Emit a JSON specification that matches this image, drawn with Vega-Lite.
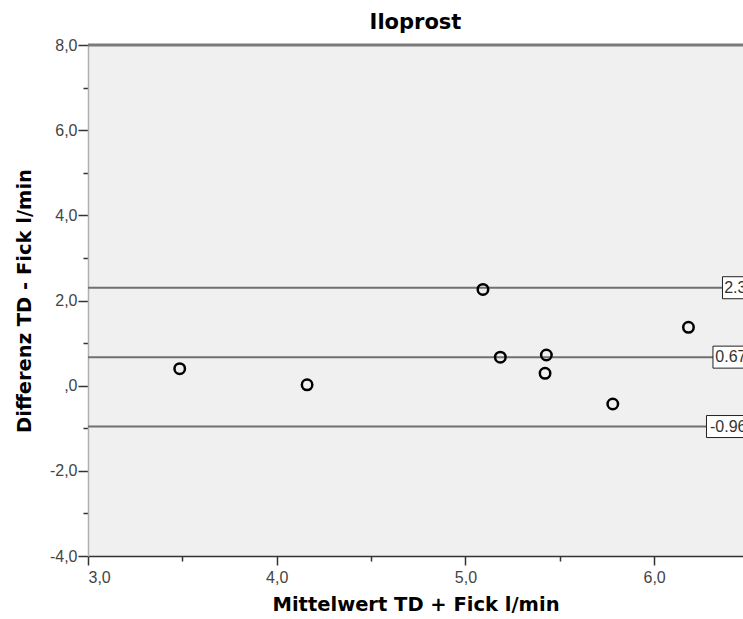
{
  "$schema": "https://vega.github.io/schema/vega-lite/v6.json",
  "autosize": "none",
  "width": 655,
  "height": 511,
  "padding": {"left": 88, "top": 45, "right": 0, "bottom": 63},
  "background": "white",
  "title": {
    "text": "Iloprost",
    "font": "DejaVu Sans",
    "fontSize": 21,
    "fontWeight": "bold",
    "color": "#000000",
    "anchor": "middle",
    "offset": 4
  },
  "datasets": {
    "points": [
      {"mean": 3.486, "diff": 0.40},
      {"mean": 4.161, "diff": 0.02},
      {"mean": 5.093, "diff": 2.26},
      {"mean": 5.185, "diff": 0.67},
      {"mean": 5.429, "diff": 0.72},
      {"mean": 5.422, "diff": 0.29},
      {"mean": 5.781, "diff": -0.43},
      {"mean": 6.182, "diff": 1.37}
    ],
    "limits": [
      {"kind": "upper", "value": 2.3, "label": "2.3"},
      {"kind": "mean", "value": 0.67, "label": "0.67"},
      {"kind": "lower", "value": -0.96, "label": "-0.96"}
    ]
  },
  "layer": [
    {
      "data": {"values": [{}]},
      "mark": {"type": "rule", "color": "#7a7a7a", "strokeWidth": 3},
      "encoding": {"y": {"datum": 8, "type": "quantitative"}}
    },
    {
      "data": {"name": "limits"},
      "mark": {"type": "rule", "color": "#707070", "strokeWidth": 2},
      "encoding": {"y": {"field": "value", "type": "quantitative"}}
    },
    {
      "data": {"name": "limits"},
      "mark": {"type": "point", "filled": true, "fill": "white", "stroke": "#202020", "strokeWidth": 1, "size": 4, "opacity": 1, "clip": false},
      "encoding": {
        "x": {"datum": 6.5, "type": "quantitative"},
        "y": {"field": "value", "type": "quantitative"},
        "shape": {
          "field": "label",
          "type": "nominal",
          "legend": null,
          "scale": {
            "domain": ["2.3", "0.67", "-0.96"],
            "range": ["M-26,-11H0V11H-26Z", "M-35.5,-11H0V11H-35.5Z", "M-42,-11H0V11H-42Z"]
          }
        }
      }
    },
    {
      "data": {"name": "limits"},
      "mark": {"type": "text", "align": "right", "baseline": "middle", "dx": -2, "font": "Liberation Sans", "fontSize": 16, "color": "#333333", "clip": false},
      "encoding": {
        "x": {"datum": 6.5, "type": "quantitative"},
        "y": {"field": "value", "type": "quantitative"},
        "text": {"field": "label"}
      }
    },
    {
      "data": {"name": "points"},
      "mark": {"type": "point", "shape": "circle", "filled": false, "stroke": "#000000", "strokeWidth": 2.5, "size": 110, "opacity": 1},
      "encoding": {
        "x": {
          "field": "mean",
          "type": "quantitative",
          "scale": {"domain": [3, 6.471], "nice": false, "zero": false},
          "axis": {
            "title": "Mittelwert TD + Fick l/min",
            "values": [3, 3.5, 4, 4.5, 5, 5.5, 6],
            "labelExpr": "datum.value % 1 != 0 ? '' : replace(format(datum.value, '.1f'), '.', ',')",
            "tickSize": {"condition": {"test": "datum.value % 1 != 0", "value": 5}, "value": 9},
            "grid": false
          }
        },
        "y": {
          "field": "diff",
          "type": "quantitative",
          "scale": {"domain": [-4, 8], "nice": false, "zero": false},
          "axis": {
            "title": "Differenz TD - Fick l/min",
            "values": [-4, -3, -2, -1, 0, 1, 2, 3, 4, 5, 6, 7, 8],
            "labelExpr": "datum.value % 2 != 0 ? '' : datum.value == 0 ? ',0' : replace(replace(format(datum.value, '.1f'), '.', ','), '\u2212', '-')",
            "tickSize": {"condition": {"test": "datum.value % 2 != 0", "value": 5}, "value": 10},
            "grid": false
          }
        }
      }
    }
  ],
  "config": {
    "view": {"fill": "#f0f0f0", "stroke": null},
    "axis": {
      "labelFont": "Liberation Sans",
      "labelFontSize": 16,
      "labelColor": "#444444",
      "tickColor": "#333333",
      "tickWidth": 1.5,
      "titleFont": "DejaVu Sans",
      "titleFontSize": 19.5,
      "titleFontWeight": "bold",
      "titleColor": "#000000"
    },
    "axisX": {
      "domainColor": "#333333",
      "domainWidth": 1.5,
      "labelPadding": 4,
      "titlePadding": 10
    },
    "axisY": {
      "domainColor": "#b0b0b0",
      "domainWidth": 1.5,
      "labelPadding": 1,
      "titlePadding": 15
    }
  }
}
